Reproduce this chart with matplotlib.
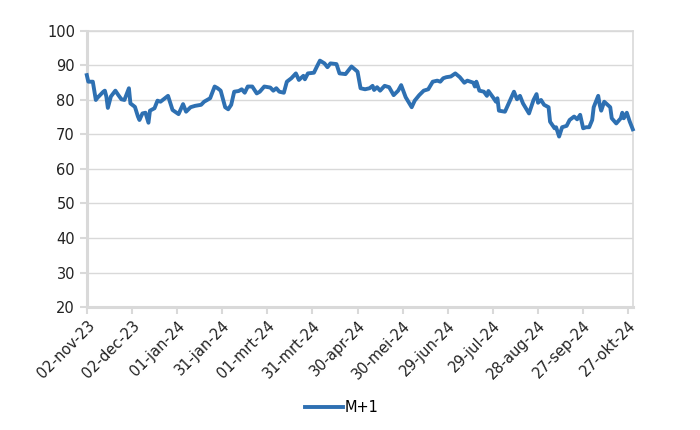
import matplotlib
matplotlib.use("Agg")
import matplotlib.pyplot as plt
import pandas as pd

dates = [
    "2023-11-02", "2023-11-03", "2023-11-06", "2023-11-08", "2023-11-09", "2023-11-13",
    "2023-11-14", "2023-11-15", "2023-11-16", "2023-11-18", "2023-11-21", "2023-11-23",
    "2023-11-25", "2023-11-27", "2023-11-30", "2023-12-01", "2023-12-04", "2023-12-06",
    "2023-12-07", "2023-12-09", "2023-12-11", "2023-12-13", "2023-12-14", "2023-12-17",
    "2023-12-19", "2023-12-21", "2023-12-24", "2023-12-26", "2023-12-29", "2024-01-02",
    "2024-01-05", "2024-01-07", "2024-01-10", "2024-01-13", "2024-01-17", "2024-01-19",
    "2024-01-21", "2024-01-23", "2024-01-26", "2024-01-28", "2024-01-30", "2024-02-02",
    "2024-02-04", "2024-02-06", "2024-02-08", "2024-02-11", "2024-02-13", "2024-02-15",
    "2024-02-17", "2024-02-20", "2024-02-23", "2024-02-25", "2024-02-28", "2024-03-03",
    "2024-03-05", "2024-03-07", "2024-03-09", "2024-03-12", "2024-03-14", "2024-03-17",
    "2024-03-20", "2024-03-22", "2024-03-25", "2024-03-26", "2024-03-28", "2024-04-01",
    "2024-04-03", "2024-04-05", "2024-04-08", "2024-04-10", "2024-04-12", "2024-04-16",
    "2024-04-18", "2024-04-22", "2024-04-26", "2024-04-30", "2024-05-02", "2024-05-05",
    "2024-05-08", "2024-05-10", "2024-05-11", "2024-05-13", "2024-05-15", "2024-05-18",
    "2024-05-21", "2024-05-24", "2024-05-27", "2024-05-29", "2024-06-01", "2024-06-05",
    "2024-06-07", "2024-06-10", "2024-06-13", "2024-06-16", "2024-06-19", "2024-06-22",
    "2024-06-24", "2024-06-26", "2024-06-28", "2024-07-01", "2024-07-04", "2024-07-07",
    "2024-07-10", "2024-07-12", "2024-07-16", "2024-07-17", "2024-07-18", "2024-07-20",
    "2024-07-23", "2024-07-25", "2024-07-26", "2024-07-29", "2024-07-31", "2024-08-01",
    "2024-08-02", "2024-08-06", "2024-08-09", "2024-08-12", "2024-08-14", "2024-08-16",
    "2024-08-18", "2024-08-22", "2024-08-25", "2024-08-27", "2024-08-28", "2024-08-30",
    "2024-09-01", "2024-09-04", "2024-09-05", "2024-09-08", "2024-09-09", "2024-09-11",
    "2024-09-13", "2024-09-16", "2024-09-18", "2024-09-21", "2024-09-23", "2024-09-25",
    "2024-09-27", "2024-09-29", "2024-10-01", "2024-10-03", "2024-10-04", "2024-10-07",
    "2024-10-08", "2024-10-09", "2024-10-11", "2024-10-15", "2024-10-16", "2024-10-19",
    "2024-10-22", "2024-10-23", "2024-10-24", "2024-10-26", "2024-10-28", "2024-10-30",
]
m1 = [
    87.2, 85.3, 85.3, 80.0, 80.6, 82.4,
    82.7, 81.0, 77.7, 81.0, 82.7, 81.4,
    80.2, 80.0, 83.4, 79.0, 78.0, 75.2,
    74.2, 76.1, 76.3, 73.4, 76.9, 77.6,
    79.8, 79.5, 80.5, 81.2, 77.1, 75.9,
    78.8, 76.6, 77.9, 78.3, 78.6, 79.5,
    80.0, 80.5, 83.9, 83.4, 82.7, 77.9,
    77.3, 78.6, 82.4, 82.6, 83.1, 82.1,
    83.9, 83.9, 81.9, 82.4, 83.9, 83.6,
    82.7, 83.4, 82.4, 82.1, 85.3, 86.3,
    87.7, 85.8, 87.0, 86.0, 87.7, 87.9,
    89.7, 91.4, 90.6, 89.5, 90.6, 90.4,
    87.7, 87.5, 89.7, 88.2, 83.4, 83.1,
    83.4, 84.1, 82.9, 83.7, 82.7, 84.1,
    83.7, 81.4, 82.7, 84.3, 80.8, 77.9,
    79.8, 81.4, 82.7, 83.1, 85.3, 85.6,
    85.3, 86.3, 86.6, 86.8, 87.7, 86.6,
    85.0, 85.6, 85.0, 83.9, 85.3, 82.7,
    82.4, 81.2, 82.6, 80.8, 79.5, 80.5,
    76.9, 76.6, 79.5, 82.4, 80.2, 81.2,
    79.0, 76.1, 80.0, 81.7, 79.2, 80.0,
    78.6, 77.9, 73.7, 71.8, 72.1, 69.4,
    72.1, 72.5, 74.2, 75.2, 74.4, 75.7,
    71.8, 72.1, 72.1, 74.2, 77.9, 81.2,
    78.6, 76.9, 79.5, 77.9, 74.7, 73.2,
    74.7, 76.3, 74.7, 76.3, 73.7, 71.5,
]
tick_labels = ["02-nov-23", "02-dec-23", "01-jan-24", "31-jan-24", "01-mrt-24",
               "31-mrt-24", "30-apr-24", "30-mei-24", "29-jun-24", "29-jul-24",
               "28-aug-24", "27-sep-24", "27-okt-24"]
series_name = "M+1"

x = pd.to_datetime(dates)
ticks = pd.date_range("2023-11-02", periods=len(tick_labels), freq="30D")

plt.rcParams["font.family"] = ["DejaVu Sans"]
fig = plt.figure(figsize=(7, 4.3), dpi=100)
ax = fig.add_axes([0.124, 0.286, 0.78, 0.642])

grid_c = "#d9d9d9"
ax.plot(x, m1, color="#2e70b2", lw=2.8, label=series_name, solid_joinstyle="round",
        clip_on=False, zorder=3)
ax.set_ylim(20, 100)
ax.set_yticks(range(20, 101, 10))
ax.set_xlim(pd.Timestamp("2023-11-02"), pd.Timestamp("2024-10-30"))
ax.set_xticks(ticks)
ax.set_xticklabels(tick_labels, rotation=45, ha="right", rotation_mode="anchor")
ax.yaxis.grid(True, color=grid_c, lw=1)
ax.set_axisbelow(True)
for s in ["top", "right"]:
    ax.spines[s].set_color(grid_c)
    ax.spines[s].set_linewidth(1.2)
for s in ["left", "bottom"]:
    ax.spines[s].set_color(grid_c)
    ax.spines[s].set_linewidth(2.2)
    ax.spines[s].set_zorder(1)
ax.tick_params(axis="both", colors=grid_c, length=5, width=1.5, labelsize=10.5,
               labelcolor="#222222")
ax.tick_params(axis="x", pad=3)

ax.legend(loc="upper center", bbox_to_anchor=(0.467, -0.29), frameon=False,
          fontsize=10.5, handlelength=2.6, handletextpad=0.15)

fig.savefig("out.png", dpi=100)
